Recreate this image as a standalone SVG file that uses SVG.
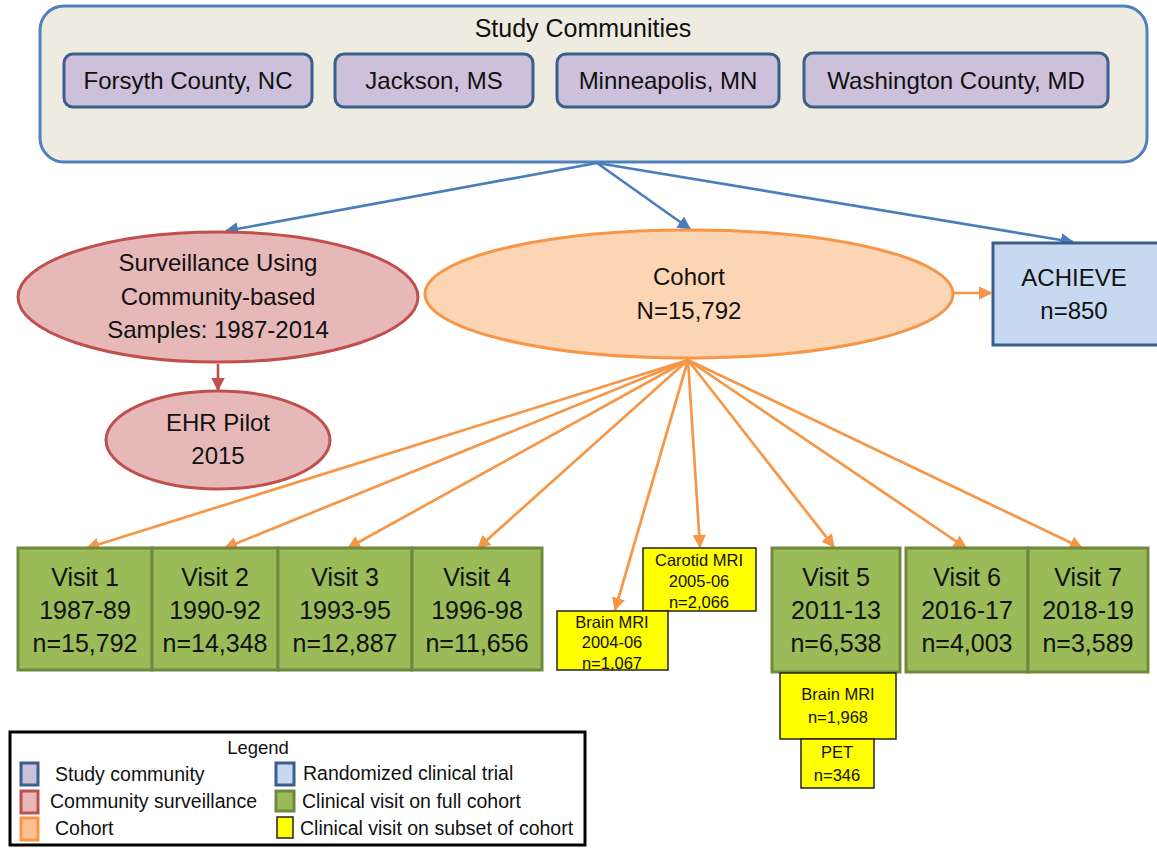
<svg xmlns="http://www.w3.org/2000/svg" width="1157" height="848" viewBox="0 0 1157 848">
<defs>
<style>
text{font-family:"Liberation Sans",Arial,sans-serif;fill:#111;text-anchor:middle}
.t22{font-size:24px}
.t23{font-size:24px}
.tv{font-size:25px}
.t15{font-size:16.5px}
.lg{font-size:19.5px;text-anchor:start}
.comm{fill:#CCC0DA;stroke:#3B5E8C;stroke-width:3}
.surv{fill:#E6B9B8;stroke:#C0504D;stroke-width:3}
.coh{fill:#FCD5B5;stroke:#F79646;stroke-width:3}
.rct{fill:#C6D9F1;stroke:#3B5E8C;stroke-width:3}
.vis{fill:#9BBB59;stroke:#71893F;stroke-width:3}
.sub{fill:#FFFF00;stroke:#222;stroke-width:1.5}
.cb{stroke:#4A7EBB;stroke-width:2.7;fill:none}
.co{stroke:#F79646;stroke-width:2.7;fill:none}
.cr{stroke:#C0504D;stroke-width:2.7;fill:none}
</style>
<marker id="ab" viewBox="0 0 10 10" refX="9" refY="5" markerWidth="5" markerHeight="5" orient="auto"><path d="M0,0L10,5L0,10z" fill="#4A7EBB"/></marker>
<marker id="ao" viewBox="0 0 10 10" refX="9" refY="5" markerWidth="5" markerHeight="5" orient="auto"><path d="M0,0L10,5L0,10z" fill="#F79646"/></marker>
<marker id="ar" viewBox="0 0 10 10" refX="9" refY="5" markerWidth="5" markerHeight="5" orient="auto"><path d="M0,0L10,5L0,10z" fill="#C0504D"/></marker>
</defs>
<rect width="1157" height="848" fill="#fff"/>

<g id="study-communities">
<rect x="40" y="6" width="1107" height="156" rx="24" fill="#EEECE1" stroke="#4F81BD" stroke-width="3"/>
<text x="583" y="37" style="font-size:25px">Study Communities</text>
</g>
<g id="forsyth"><rect class="comm" x="64" y="54" width="248" height="53" rx="9"/><text class="t23" x="188" y="89">Forsyth County, NC</text></g>
<g id="jackson"><rect class="comm" x="335" y="54" width="198" height="53" rx="9"/><text class="t23" x="434" y="89">Jackson, MS</text></g>
<g id="minneapolis"><rect class="comm" x="557" y="54" width="222" height="53" rx="9"/><text class="t23" x="668" y="89">Minneapolis, MN</text></g>
<g id="washington"><rect class="comm" x="804" y="53" width="304" height="54" rx="9"/><text class="t23" x="956" y="89">Washington County, MD</text></g>

<g id="connectors">
<line class="cb" x1="597" y1="163" x2="226" y2="231" marker-end="url(#ab)"/>
<line class="cb" x1="597" y1="163" x2="690" y2="229" marker-end="url(#ab)"/>
<line class="cb" x1="597" y1="163" x2="1073" y2="242" marker-end="url(#ab)"/>
<line class="cr" x1="218" y1="364" x2="218" y2="390" marker-end="url(#ar)"/>
<line class="co" x1="953" y1="293" x2="991" y2="293" marker-end="url(#ao)"/>
<line class="co" x1="688" y1="360" x2="87" y2="548" marker-end="url(#ao)"/>
<line class="co" x1="688" y1="360" x2="225" y2="548" marker-end="url(#ao)"/>
<line class="co" x1="688" y1="360" x2="348" y2="548" marker-end="url(#ao)"/>
<line class="co" x1="688" y1="360" x2="478" y2="548" marker-end="url(#ao)"/>
<line class="co" x1="688" y1="360" x2="615" y2="610" marker-end="url(#ao)"/>
<line class="co" x1="688" y1="360" x2="700" y2="547" marker-end="url(#ao)"/>
<line class="co" x1="688" y1="360" x2="834" y2="547" marker-end="url(#ao)"/>
<line class="co" x1="688" y1="360" x2="966" y2="548" marker-end="url(#ao)"/>
<line class="co" x1="688" y1="360" x2="1082" y2="548" marker-end="url(#ao)"/>
</g>

<g id="surveillance"><ellipse class="surv" cx="218" cy="297" rx="200" ry="65"/>
<text class="t22" x="218" y="271">Surveillance Using</text><text class="t22" x="218" y="305">Community-based</text><text class="t22" x="218" y="338">Samples: 1987-2014</text></g>
<g id="ehr"><ellipse class="surv" cx="218" cy="440" rx="112" ry="49"/>
<text class="t22" x="218" y="431">EHR Pilot</text><text class="t22" x="218" y="464">2015</text></g>
<g id="cohort"><ellipse class="coh" cx="689" cy="294" rx="264" ry="64"/>
<text class="t22" x="689" y="285">Cohort</text><text class="t22" x="689" y="319">N=15,792</text></g>
<g id="achieve"><rect class="rct" x="993" y="243" width="170" height="102"/>
<text class="t22" x="1074" y="286">ACHIEVE</text><text class="t22" x="1074" y="319">n=850</text></g>

<g id="visit1"><rect class="vis" x="18" y="548" width="134" height="122"/><text class="tv" x="85" y="586">Visit 1</text><text class="tv" x="85" y="619">1987-89</text><text class="tv" x="85" y="652">n=15,792</text></g>
<g id="visit2"><rect class="vis" x="152" y="548" width="126" height="122"/><text class="tv" x="215" y="586">Visit 2</text><text class="tv" x="215" y="619">1990-92</text><text class="tv" x="215" y="652">n=14,348</text></g>
<g id="visit3"><rect class="vis" x="278" y="548" width="134" height="122"/><text class="tv" x="345" y="586">Visit 3</text><text class="tv" x="345" y="619">1993-95</text><text class="tv" x="345" y="652">n=12,887</text></g>
<g id="visit4"><rect class="vis" x="412" y="548" width="130" height="122"/><text class="tv" x="477" y="586">Visit 4</text><text class="tv" x="477" y="619">1996-98</text><text class="tv" x="477" y="652">n=11,656</text></g>
<g id="carotid"><rect class="sub" x="643" y="548" width="113" height="63"/><text class="t15" x="699" y="566">Carotid MRI</text><text class="t15" x="699" y="587">2005-06</text><text class="t15" x="699" y="608">n=2,066</text></g>
<g id="brainmri1"><rect class="sub" x="557" y="611" width="111" height="59"/><text class="t15" x="612" y="628">Brain MRI</text><text class="t15" x="612" y="648">2004-06</text><text class="t15" x="612" y="669">n=1,067</text></g>
<g id="visit5"><rect class="vis" x="772" y="548" width="128" height="124"/><text class="tv" x="836" y="586">Visit 5</text><text class="tv" x="836" y="619">2011-13</text><text class="tv" x="836" y="652">n=6,538</text></g>
<g id="brainmri2"><rect class="sub" x="780" y="673" width="116" height="66"/><text class="t15" x="838" y="700">Brain MRI</text><text class="t15" x="838" y="723">n=1,968</text></g>
<g id="pet"><rect class="sub" x="801" y="739" width="73" height="49"/><text class="t15" x="837" y="758">PET</text><text class="t15" x="837" y="781">n=346</text></g>
<g id="visit6"><rect class="vis" x="906" y="548" width="122" height="124"/><text class="tv" x="967" y="586">Visit 6</text><text class="tv" x="967" y="619">2016-17</text><text class="tv" x="967" y="652">n=4,003</text></g>
<g id="visit7"><rect class="vis" x="1028" y="548" width="120" height="124"/><text class="tv" x="1088" y="586">Visit 7</text><text class="tv" x="1088" y="619">2018-19</text><text class="tv" x="1088" y="652">n=3,589</text></g>

<g id="legend">
<rect x="10" y="732" width="575" height="113" fill="#fff" stroke="#000" stroke-width="3"/>
<text x="258" y="754" style="font-size:18.5px">Legend</text>
<rect class="comm" x="21" y="763" width="17" height="22"/><text class="lg" x="55" y="781">Study community</text>
<rect class="surv" x="21" y="791" width="17" height="22"/><text class="lg" x="50" y="808">Community surveillance</text>
<rect x="21" y="818" width="17" height="22" fill="#FAC090" stroke="#F79646" stroke-width="3"/><text class="lg" x="55" y="835">Cohort</text>
<rect class="rct" x="276" y="763" width="18" height="22"/><text class="lg" x="303" y="780">Randomized clinical trial</text>
<rect class="vis" x="276" y="791" width="18" height="20"/><text class="lg" x="302" y="808">Clinical visit on full cohort</text>
<rect class="sub" x="277" y="817" width="16" height="21"/><text class="lg" x="300" y="835">Clinical visit on subset of cohort</text>
</g>
</svg>
